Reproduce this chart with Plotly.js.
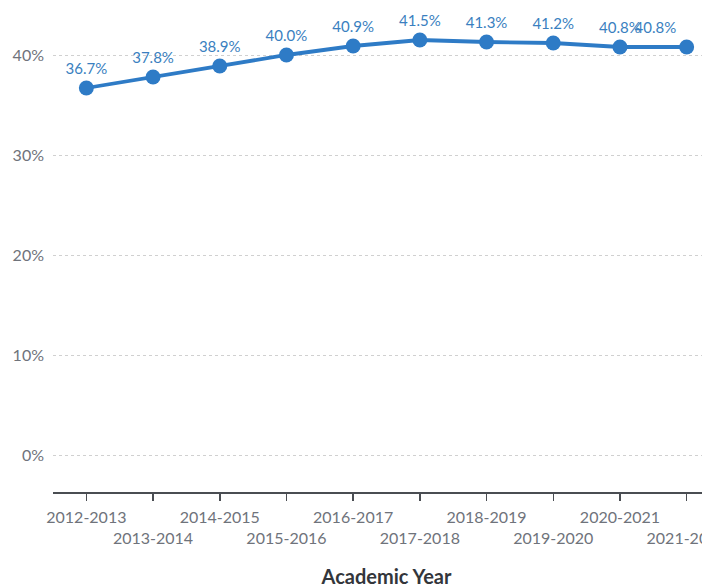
<!DOCTYPE html>
<html><head><meta charset="utf-8">
<script src="https://cdn.plot.ly/plotly-3.0.1.min.js"></script>
<style>html,body{margin:0;padding:0;overflow:hidden;background:#fff;width:702px;height:588px}#c{width:760px;height:588px}</style>
</head><body><div id="c"></div>
<script>
const years = ["2012-2013","2013-2014","2014-2015","2015-2016","2016-2017","2017-2018","2018-2019","2019-2020","2020-2021","2021-2022"];
const rates = [36.7,37.8,38.9,40.0,40.9,41.5,41.3,41.2,40.8,40.8];
const yTicks = [0,10,20,30,40];

const idx = years.map((_,i)=>i);
const tickText = years.map((y,i)=> i%2===0 ? y : "<br>"+y);
const textPos = years.map((_,i)=> i===years.length-1 ? "top left" : "top center");

const trace = {
  x: idx, y: rates, type:"scatter", mode:"lines+markers+text",
  text: rates.map(v=>v.toFixed(1)+"%"), textposition:textPos,
  textfont:{family:"Lato, sans-serif", size:15, color:"#3a7fc0"},
  line:{color:"#2e7bc6", width:3.8},
  marker:{color:"#2e7bc6", size:15},
  cliponaxis:false, hoverinfo:"skip"
};
const layout = {
  width:760, height:588,
  margin:{l:53, r:40, t:0, b:96},
  paper_bgcolor:"#fff", plot_bgcolor:"#fff",
  showlegend:false,
  font:{family:"Lato, sans-serif"},
  xaxis:{
    range:[-0.5,9.5], tickvals:idx, ticktext:tickText, tickangle:0,
    showgrid:false, zeroline:false, showline:true, linecolor:"#4a4d52", linewidth:1.5,
    ticks:"outside", ticklen:7, tickwidth:1.5, tickcolor:"#4a4d52",
    ticklabelstandoff:3,
    tickfont:{family:"Lato, sans-serif", size:16, color:"#6f737b"},
    title:{text:"<b>Academic Year</b>", font:{family:"Lato, sans-serif", size:20, color:"#33363b"}, standoff:24}
  },
  yaxis:{
    range:[-3.7,45.5], tickvals:yTicks, ticktext:yTicks.map(v=>v+"%"),
    showgrid:true, gridcolor:"#d0d0d0", griddash:"dot", gridwidth:1,
    zeroline:false, showline:false, ticks:"", ticklabelstandoff:8,
    tickfont:{family:"Lato, sans-serif", size:16, color:"#6f737b"}
  }
};
Plotly.newPlot("c",[trace],layout,{displayModeBar:false, staticPlot:true});
</script></body></html>
